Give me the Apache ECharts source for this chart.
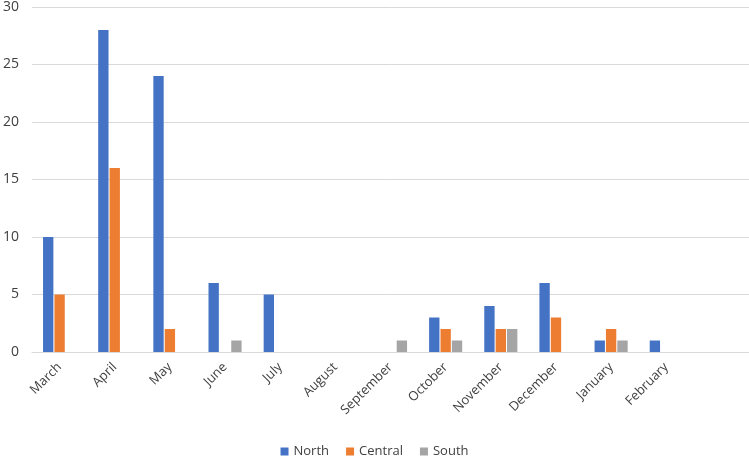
<!DOCTYPE html>
<html><head><meta charset="utf-8">
<script src="https://cdn.jsdelivr.net/npm/echarts@6/dist/echarts.min.js"></script>
<style>html,body{margin:0;padding:0;background:#fff}#c{width:749px;height:458px}</style>
</head><body><div id="c"></div>
<script>
const categories = ["March","April","May","June","July","August","September","October","November","December","January","February",""];
const north   = [10, 28, 24, 6, 5, 0, 0, 3, 4, 6, 1, 1, null];
const central = [5, 16, 2, 0, 0, 0, 0, 2, 2, 3, 2, 0, null];
const south   = [0, 0, 0, 1, 0, 0, 1, 1, 2, 0, 1, 0, null];
const yTicks = [0, 5, 10, 15, 20, 25, 30];

const font = "'Open Sans', 'Noto Sans', sans-serif";
const chart = echarts.init(document.getElementById('c'), null, {renderer:'canvas'});
const mk = (name, data, color) => ({
  name, type:'bar', data,
  barGap:'10%', barCategoryGap:'40%',
  itemStyle:{color}
});
chart.setOption({
  animation:false,
  textStyle:{fontFamily:font},
  grid:{left:29, right:0, top:6, bottom:106, containLabel:false},
  legend:{bottom:0, left:'center', padding:0, itemWidth:8, itemHeight:8, itemGap:17, icon:'rect',
    textStyle:{fontSize:13, color:'#404040', fontFamily:font}},
  xAxis:{type:'category', data:categories,
    axisLine:{lineStyle:{color:'#d9d9d9', width:1}},
    axisTick:{show:false},
    axisLabel:{rotate:45, fontSize:13, color:'#404040', margin:13, interval:0, fontFamily:font}},
  yAxis:{type:'value', min:0, max:30, interval:5,
    axisLine:{show:false}, axisTick:{show:false},
    splitLine:{lineStyle:{color:'#d9d9d9'}},
    axisLabel:{fontSize:14, color:'#404040', margin:13, fontFamily:font,
      formatter: v => yTicks.includes(v) ? String(v) : ''}},
  series:[mk('North', north, '#4472C4'), mk('Central', central, '#ED7D31'), mk('South', south, '#A5A5A5')]
});
</script></body></html>
